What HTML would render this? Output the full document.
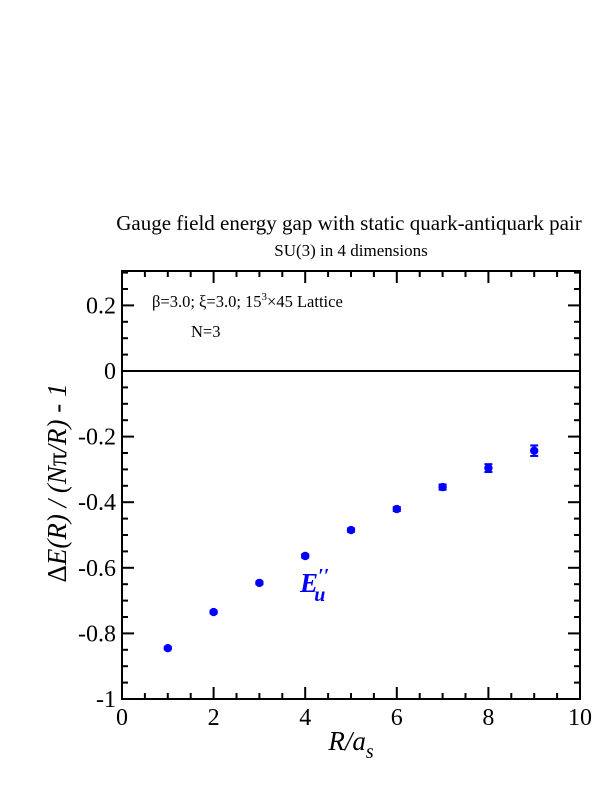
<!DOCTYPE html>
<html><head><meta charset="utf-8"><style>
body{margin:0;background:#fff}
svg{display:block;font-family:"Liberation Serif",serif}
</style></head><body>
<svg id="c" width="612" height="792" xmlns="http://www.w3.org/2000/svg">
<rect width="612" height="792" fill="#fff"/>
<text x="349" y="230" font-size="21" text-anchor="middle">Gauge field energy gap with static quark-antiquark pair</text>
<text x="351" y="256" font-size="17" text-anchor="middle">SU(3) in 4 dimensions</text>
<g id="ticks"></g>
<rect x="122" y="271" width="458" height="428" fill="none" stroke="#000" stroke-width="2"/>
<line x1="122" x2="580" y1="371" y2="371" stroke="#000" stroke-width="2"/>
<text x="152" y="307" font-size="16.5">β=3.0;  ξ=3.0;  15<tspan dy="-7" font-size="11">3</tspan><tspan dy="7">×45 Lattice</tspan></text>
<text x="191" y="337" font-size="16.5">N=3</text>
<text x="300" y="592" font-size="27" font-style="italic" font-weight="bold" fill="#0000ff">E<tspan font-size="20" dy="-10">′′</tspan><tspan font-size="20" dx="-15" dy="19">u</tspan></text>
<g id="pts"></g>
<text x="351" y="750" font-size="27" font-style="italic" text-anchor="middle">R/a<tspan font-size="20" dy="8">s</tspan></text>
<text transform="translate(66,483) rotate(-90)" font-size="27" font-style="italic" text-anchor="middle"><tspan font-style="normal">Δ</tspan>E(R) / (N<tspan font-style="normal">π</tspan>/R) - 1</text>
</svg>
<script>
const rValues=[1,2,3,4,5,6,7,8,9];
const gapValues=[-0.845,-0.735,-0.646,-0.564,-0.485,-0.421,-0.354,-0.296,-0.243];
const gapErrors=[0.004,0.004,0.004,0.005,0.005,0.006,0.008,0.012,0.016];
const xTickLabels=["0","2","4","6","8","10"];
const yTickLabels=["-1","-0.8","-0.6","-0.4","-0.2","0","0.2"];
const NS="http://www.w3.org/2000/svg";
const X=v=>122+v*45.8, Y=v=>371-v*328;
function mk(t,a,p){const e=document.createElementNS(NS,t);for(const k in a)e.setAttribute(k,a[k]);p.appendChild(e);return e;}
const tk=document.getElementById('ticks');
for(let i=0;i<=20;i++){const v=i*0.5,x=X(v),L=(i%4==0)?12:6;
 mk('line',{x1:x,x2:x,y1:699,y2:699-L,stroke:'#000','stroke-width':2},tk);
 mk('line',{x1:x,x2:x,y1:271,y2:271+L,stroke:'#000','stroke-width':2},tk);}
xTickLabels.forEach(s=>{const t=mk('text',{x:X(+s),y:725,'font-size':24,'text-anchor':'middle'},tk);t.textContent=s;
 
 });
for(let i=0;i<=26;i++){const v=-1+i*0.05,y=Y(v),L=(i%4==0)?12:6;
 mk('line',{x1:122,x2:122+L,y1:y,y2:y,stroke:'#000','stroke-width':2},tk);
 mk('line',{x1:580,x2:580-L,y1:y,y2:y,stroke:'#000','stroke-width':2},tk);}
yTickLabels.forEach(s=>{const t=mk('text',{x:116,y:Y(+s)+8,'font-size':24,'text-anchor':'end'},tk);t.textContent=s;
 
 });
const pg=document.getElementById('pts');
rValues.forEach((r,i)=>{const g=mk('g',{},pg);
 
 
 const x=X(r),y=Y(gapValues[i]),e=gapErrors[i]*328;
 mk('line',{x1:x,x2:x,y1:y-e,y2:y+e,stroke:'#00f','stroke-width':2},g);
 mk('line',{x1:x-4,x2:x+4,y1:y-e,y2:y-e,stroke:'#00f','stroke-width':2},g);
 mk('line',{x1:x-4,x2:x+4,y1:y+e,y2:y+e,stroke:'#00f','stroke-width':2},g);
 mk('circle',{cx:x,cy:y,r:4.2,fill:'#00f'},g);});
</script>
</body></html>
